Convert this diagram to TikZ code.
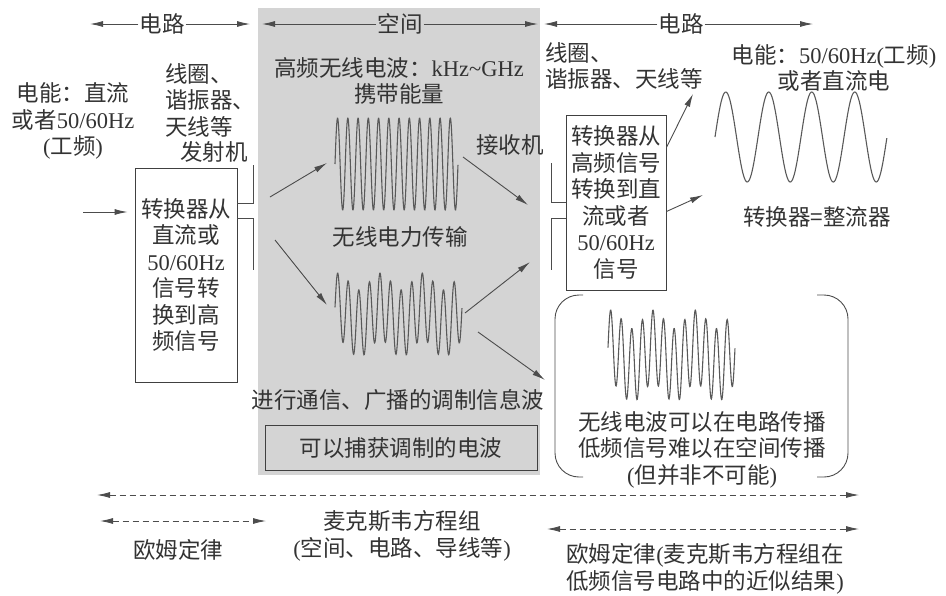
\documentclass[tikz,border=0pt]{standalone}
\usepackage{fontspec}
\setmainfont{Noto Sans CJK SC}
\newfontfamily\latn{Liberation Serif}
\usetikzlibrary{arrows.meta,calc}

\newcommand{\en}[1]{{\latn #1}}
% beat-like carrier: left x, centre y, width, half height
\newcommand{\modwave}[4]{%
  \draw[wave] plot[domain=0:1,samples=360]
    ({#1+#3*\x},{#2-#4*(0.8*sin(4320*\x)-0.2*cos(1080*(\x-0.19)))});}

\begin{document}
\begin{tikzpicture}[x=1pt,y=-1pt,>={Latex[length=13pt,width=6pt]},
  every node/.style={font=\fontsize{22.5}{26.5}\selectfont,text=black!80,inner sep=1pt},
  line/.style={black!70,line width=0.9pt},
  arr/.style={line,->},
  darr/.style={line,<->,dash pattern=on 6pt off 4pt},
  wave/.style={black!65,line width=1.1pt},
  convbox/.style={draw=black!75,line width=0.9pt,align=center,inner sep=0pt}]

  \useasboundingbox (0,0) rectangle (946,595);
  % space region
  \fill[black!17] (258,8) rectangle (540,475);

  % top zones
  \node (zcl) at (162,24) {电路};
  \node (zsp) at (400,24) {空间};
  \node (zcr) at (681,24) {电路};
  \coordinate (zcl-a) at (90,24);
  \coordinate (zcl-b) at (250,24);
  \coordinate (zsp-a) at (262,24);
  \coordinate (zsp-b) at (538,24);
  \coordinate (zcr-a) at (544,24);
  \coordinate (zcr-b) at (813,24);
  \draw[arr] (zcl) -- (zcl-a);
  \draw[arr] (zcl) -- (zcl-b);
  \draw[arr] (zsp) -- (zsp-a);
  \draw[arr] (zsp) -- (zsp-b);
  \draw[arr] (zcr) -- (zcr-a);
  \draw[arr] (zcr) -- (zcr-b);

  % transmitter side
  \node[align=center] (srcl) at (73,121) {电能：直流\\或者\en{50/60Hz}\\\en{(}工频\en{)}};
  \node[align=left,anchor=west] (coill) at (164,100) {线圈、\\谐振器、\\天线等};
  \node (tx) at (214,152) {发射机};
  \node[convbox,minimum width=102,minimum height=214] (lbox) at (186,275)
    {转换器从\\直流或\\\en{50/60Hz}\\信号转\\换到高\\频信号};
  \coordinate (feed) at (83,212);
  \draw[arr] (feed) -- ($(lbox.west)+(-7,-63)$);
  \draw[line] ($(lbox.east)+(0,-72)$) -- ++(16,0) -- ++(0,-38);
  \draw[line] ($(lbox.east)+(0,-57)$) -- ++(16,0) -- ++(0,52);

  % space
  \node[align=center] (hfw) at (399,81) {高频无线电波：\en{kHz\textasciitilde GHz}\\携带能量};
  \draw[wave] plot[domain=0:1,samples=360] ({335+123*\x},{164-46*sin(4320*\x)});
  \node (wpt) at (400,237) {无线电力传输};
  \modwave{335}{315}{127}{42}
  \node (modw) at (398,400) {进行通信、广播的调制信息波};
  \node[draw=black!75,line width=0.9pt,minimum width=272,minimum height=45] (catch)
    at (401,447.5) {可以捕获调制的电波};
  \node (rx) at (510,145) {接收机};

  \coordinate (tx-a) at (270,197);
  \coordinate (tx-b) at (275,240);
  \coordinate (hf-in) at (327,163);
  \coordinate (am-in) at (327,305);
  \coordinate (hf-out) at (463,157);
  \coordinate (am-out1) at (465,313);
  \coordinate (am-out2) at (478,332);
  \coordinate (rx-a) at (528,205);
  \coordinate (rx-b) at (530,262);
  \coordinate (cab) at (545,380);
  \draw[arr] (tx-a) -- (hf-in);
  \draw[arr] (tx-b) -- (am-in);
  \draw[arr] (hf-out) -- (rx-a);
  \draw[arr] (am-out1) -- (rx-b);
  \draw[arr] (am-out2) -- (cab);

  % receiver side
  \node[align=left,anchor=west] (coilr) at (544,66) {线圈、\\谐振器、天线等};
  \node[convbox,minimum width=100,minimum height=175] (rbox) at (616,202.5)
    {转换器从\\高频信号\\转换到直\\流或者\\\en{50/60Hz}\\信号};
  \draw[line] (rbox.west) -- ++(-14,0) -- ++(0,-40);
  \draw[line] ($(rbox.west)+(0,15.5)$) -- ++(-14,0) -- ++(0,52);
  \node[align=center] (srcr) at (834,68) {电能：\en{50/60Hz(}工频\en{)}\\或者直流电};
  \draw[wave] plot[domain=0:1,samples=200] ({715+172*\x},{137-45*sin(1440*\x)});
  \node (rect) at (817,217) {转换器=整流器};
  \coordinate (out-a) at (693,94);
  \coordinate (out-b) at (703,195);
  \draw[arr] ($(rbox.east)+(0,-55)$) -- (out-a);
  \draw[arr] ($(rbox.east)+(0,9)$) -- (out-b);

  % wave in circuit
  \draw[line,rounded corners=24pt] (583,295) -- (555,295) -- (555,477) -- (583,477);
  \draw[line,rounded corners=24pt] (817,295) -- (848,295) -- (848,477) -- (817,477);
  \modwave{608}{356}{127}{46}
  \node[align=center] (note) at (702,449.5)
    {无线电波可以在电路传播\\低频信号难以在空间传播\\\en{(}但并非不可能\en{)}};

  % laws
  \coordinate (mx-a) at (97,495);
  \coordinate (mx-b) at (859,495);
  \draw[darr] (mx-a) -- (mx-b);
  \coordinate (ohl-a) at (100,521);
  \coordinate (ohl-b) at (266,521);
  \draw[darr] (ohl-a) -- (ohl-b);
  \node (ohml) at (178,550) {欧姆定律};
  \node[align=center] (maxw) at (402,536) {麦克斯韦方程组\\\en{(}空间、电路、导线等\en{)}};
  \coordinate (ohr-a) at (547,529);
  \coordinate (ohr-b) at (859,529);
  \draw[darr] (ohr-a) -- (ohr-b);
  \node[align=center] (ohmr) at (705,569)
    {欧姆定律\en{(}麦克斯韦方程组在\\低频信号电路中的近似结果\en{)}};
\end{tikzpicture}
\end{document}
